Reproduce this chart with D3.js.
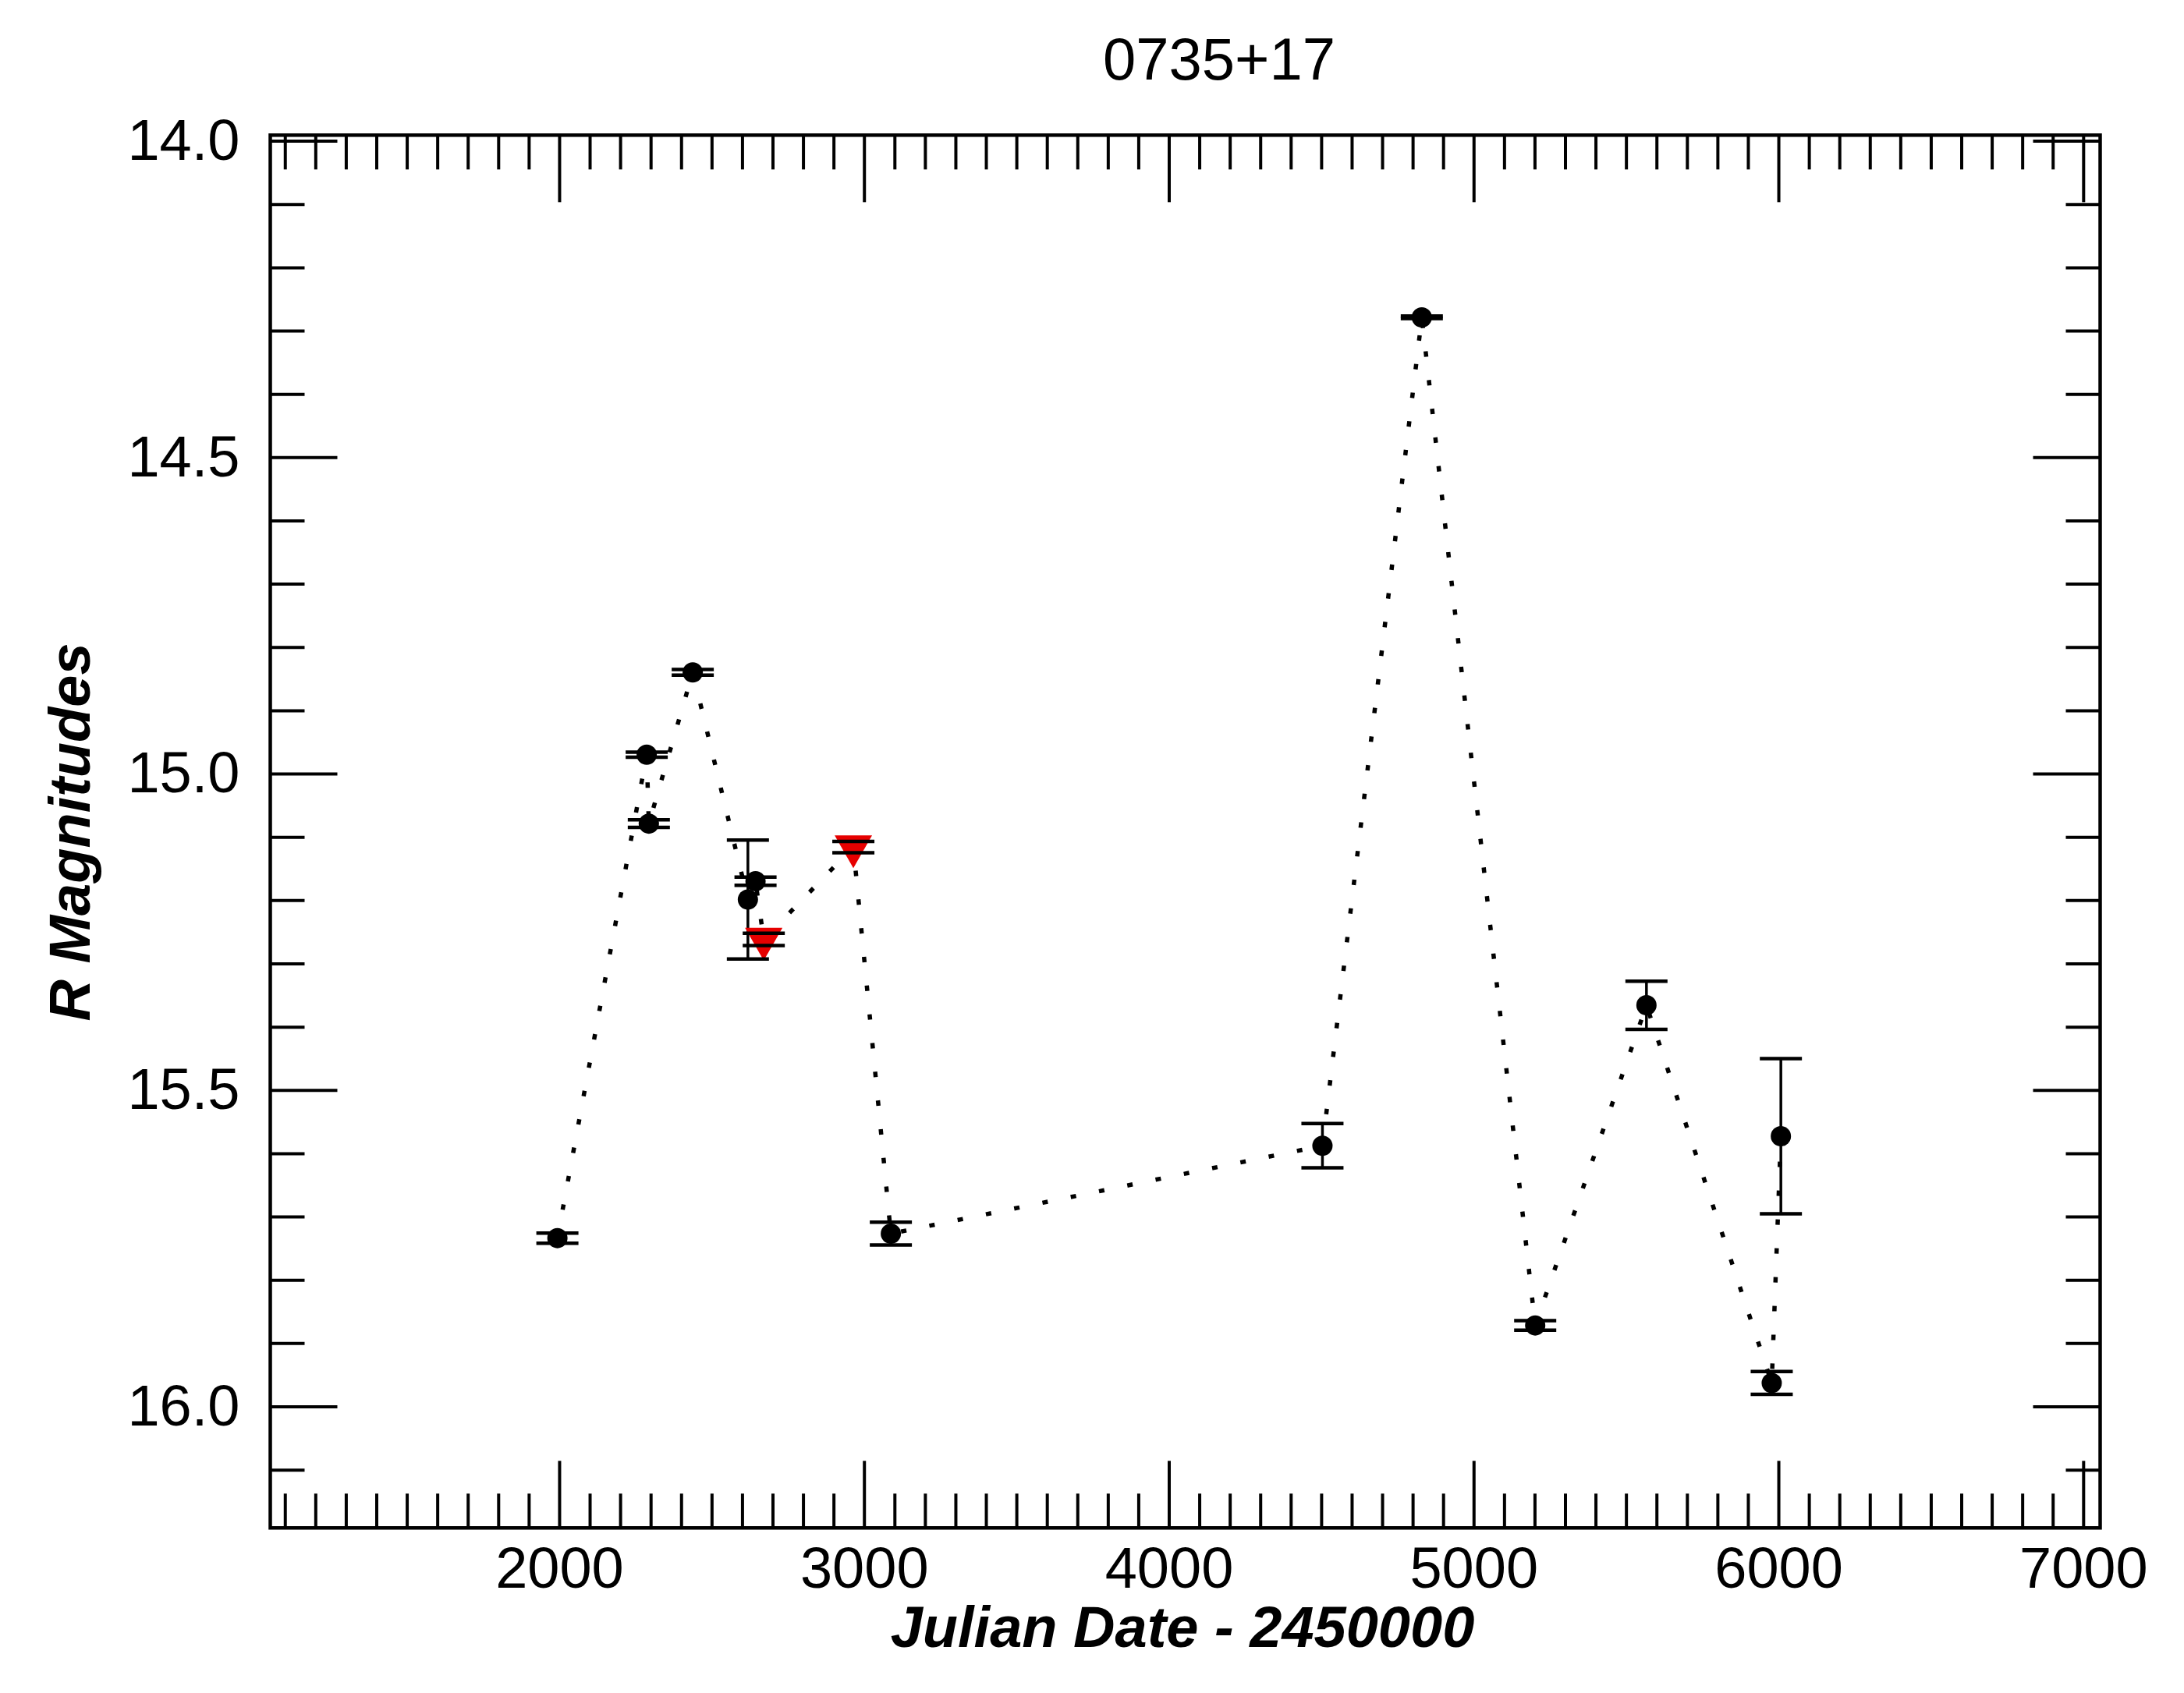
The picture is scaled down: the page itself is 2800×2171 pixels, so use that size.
<!DOCTYPE html>
<html>
<head>
<meta charset="utf-8">
<script src="https://cdn.jsdelivr.net/npm/d3@7"></script>
<style>
  html, body { margin: 0; padding: 0; background: #fff; }
  svg { display: block; }
  text { font-family: "Liberation Sans", Helvetica, Arial, sans-serif; fill: #000; }
</style>
</head>
<body>
<script>
// ---- data ----
const jd      = [1994, 2287, 2294, 2438, 2619, 2644, 2671, 2965, 3088, 4504, 4830, 5202, 5567, 5978, 6008];
const rMag    = [15.734, 14.970, 15.079, 14.840, 15.199, 15.170, 15.262, 15.116, 15.727, 15.588, 14.279, 15.872, 15.366, 15.963, 15.573];
const rMagErr = [0.008, 0.004, 0.006, 0.0045, 0.094, 0.0066, 0.0096, 0.009, 0.018, 0.035, 0.002, 0.0076, 0.038, 0.018, 0.1226];
const source  = ["a","a","a","a","a","a","b","b","a","a","a","a","a","a","a"];

const xMajorTicks = [2000, 3000, 4000, 5000, 6000, 7000];
const yMajorTicks = [14.0, 14.5, 15.0, 15.5, 16.0];
const titleText = "0735+17";
const xTitle = "Julian Date - 2450000";
const yTitle = "R Magnitudes";

// ---- layout ----
const W = 2800, H = 2171;
const L = 346.5, R = 2692.5, T = 173.3, B = 1959.3;

const svg = d3.select("body").append("svg").attr("width", W).attr("height", H);

const x = d3.scaleLinear().domain([1052, 7055.5]).range([L, R]);
const y = d3.scaleLinear().domain([13.991, 16.192]).range([T, B]);

const xMinor = d3.range(1100, 7001, 100).filter(v => v % 1000 !== 0);
const yMinor = d3.range(140, 162).map(v => v / 10).filter(v => Math.round(v * 10) % 5 !== 0);

const MAJ = 86, MIN = 44;
function styleAxis(g) {
  g.select(".domain").remove();
  g.selectAll(".tick line").attr("stroke", "#000").attr("stroke-width", 4);
  g.selectAll(".tick text").style("font-size", "74px").attr("fill", "#000");
}

// bottom
svg.append("g").attr("transform", `translate(0,${B})`)
  .call(d3.axisBottom(x).tickValues(xMinor).tickSize(-MIN).tickFormat(""))
  .call(styleAxis);
svg.append("g").attr("transform", `translate(0,${B})`)
  .call(d3.axisBottom(x).tickValues(xMajorTicks).tickSize(-MAJ).tickPadding(24).tickFormat(d3.format("d")))
  .call(styleAxis);
// top
svg.append("g").attr("transform", `translate(0,${T})`)
  .call(d3.axisTop(x).tickValues(xMinor).tickSize(-MIN).tickFormat(""))
  .call(styleAxis);
svg.append("g").attr("transform", `translate(0,${T})`)
  .call(d3.axisTop(x).tickValues(xMajorTicks).tickSize(-MAJ).tickFormat(""))
  .call(styleAxis);
// left
svg.append("g").attr("transform", `translate(${L},0)`)
  .call(d3.axisLeft(y).tickValues(yMinor).tickSize(-MIN).tickFormat(""))
  .call(styleAxis);
svg.append("g").attr("transform", `translate(${L},0)`)
  .call(d3.axisLeft(y).tickValues(yMajorTicks).tickSize(-MAJ).tickPadding(39).tickFormat(d3.format(".1f")))
  .call(styleAxis);
// right
svg.append("g").attr("transform", `translate(${R},0)`)
  .call(d3.axisRight(y).tickValues(yMinor).tickSize(-MIN).tickFormat(""))
  .call(styleAxis);
svg.append("g").attr("transform", `translate(${R},0)`)
  .call(d3.axisRight(y).tickValues(yMajorTicks).tickSize(-MAJ).tickFormat(""))
  .call(styleAxis);

// frame
svg.append("rect").attr("x", L).attr("y", T).attr("width", R - L).attr("height", B - T)
  .attr("fill", "none").attr("stroke", "#000").attr("stroke-width", 4.5);

// data
const data = jd.map((d, i) => ({ x: d, y: rMag[i], e: rMagErr[i], s: source[i] }));

// dotted connecting line
svg.append("path").datum(data)
  .attr("d", d3.line().x(d => x(d.x)).y(d => y(d.y)))
  .attr("fill", "none").attr("stroke", "#000").attr("stroke-width", 5.5)
  .attr("stroke-dasharray", "7 30");

// error bar stems
svg.append("g").selectAll("line").data(data).join("line")
  .attr("x1", d => x(d.x)).attr("x2", d => x(d.x))
  .attr("y1", d => y(d.y - d.e)).attr("y2", d => y(d.y + d.e))
  .attr("stroke", "#000").attr("stroke-width", 3.5);

// markers
svg.append("g").selectAll("circle").data(data.filter(d => d.s === "a")).join("circle")
  .attr("cx", d => x(d.x)).attr("cy", d => y(d.y)).attr("r", 13).attr("fill", "#000");
svg.append("g").selectAll("path").data(data.filter(d => d.s === "b")).join("path")
  .attr("d", d => {
    const cx = x(d.x), cy = y(d.y);
    return `M${cx - 24},${cy - 15}L${cx + 24},${cy - 15}L${cx},${cy + 27}Z`;
  })
  .attr("fill", "#e60000");

// error bar caps
const caps = svg.append("g");
data.forEach(d => {
  [d.y - d.e, d.y + d.e].forEach(v => {
    caps.append("line")
      .attr("x1", x(d.x) - 27).attr("x2", x(d.x) + 27)
      .attr("y1", y(v)).attr("y2", y(v))
      .attr("stroke", "#000").attr("stroke-width", 4.5);
  });
});

// titles
svg.append("text").attr("x", 1563).attr("y", 102).attr("text-anchor", "middle")
  .style("font-size", "76px").text(titleText);
svg.append("text").attr("x", 1516).attr("y", 2112).attr("text-anchor", "middle")
  .style("font-size", "74px").style("font-weight", "bold").style("font-style", "italic").text(xTitle);
svg.append("text").attr("transform", "translate(115,1067) rotate(-90)").attr("text-anchor", "middle")
  .style("font-size", "74px").style("font-weight", "bold").style("font-style", "italic").text(yTitle);
</script>
</body>
</html>
